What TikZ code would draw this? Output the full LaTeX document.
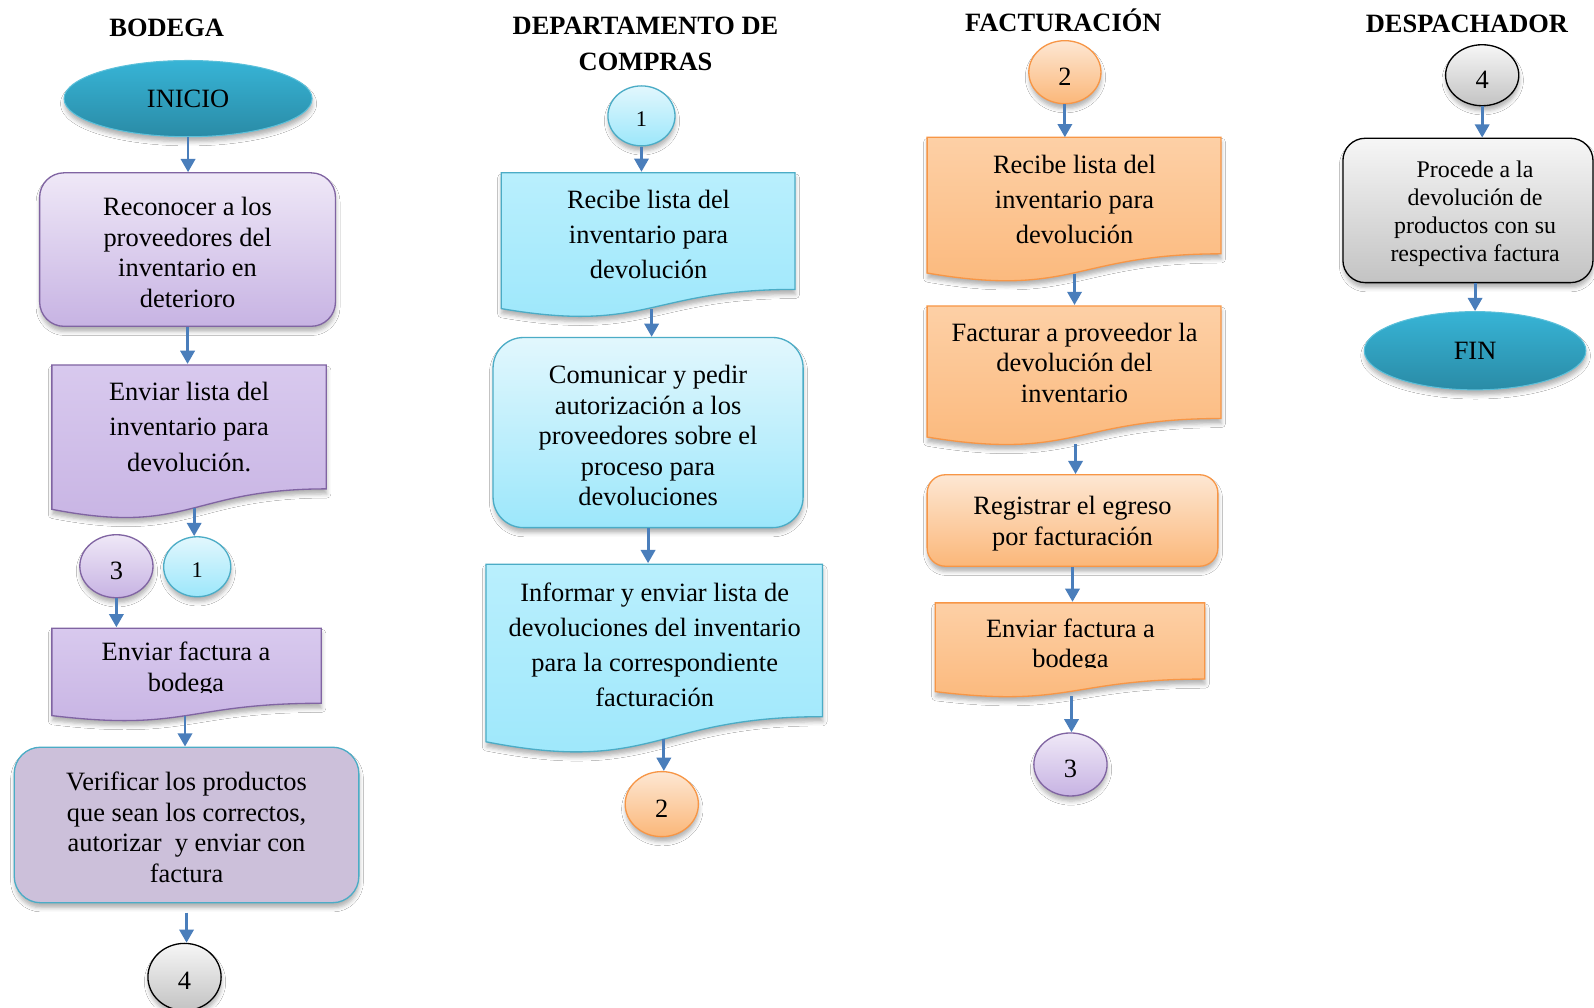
\documentclass[tikz,border=0pt]{standalone}
\usepackage{fontspec}
\setmainfont{Liberation Serif}
\usetikzlibrary{shapes.geometric,arrows.meta,shadows.blur}

\definecolor{arrowblue}{HTML}{4A7EBB}
\definecolor{purpline}{HTML}{8064A2}
\definecolor{purptop}{HTML}{EFE8F7}
\definecolor{purpbot}{HTML}{C7B3E3}
\definecolor{purpdoc}{HTML}{D8C9EE}
\definecolor{cyanline}{HTML}{4BACC6}
\definecolor{cyantop}{HTML}{E2F7FD}
\definecolor{cyanbot}{HTML}{9CE7FB}
\definecolor{cyandoc}{HTML}{B9EFFD}
\definecolor{orline}{HTML}{F79646}
\definecolor{ortop}{HTML}{FDE7D3}
\definecolor{orbot}{HTML}{FBB779}
\definecolor{ordoc}{HTML}{FDD0A6}
\definecolor{graytop}{HTML}{F6F6F6}
\definecolor{graybot}{HTML}{C3C3C3}
\definecolor{tealtop}{HTML}{37B4D6}
\definecolor{tealbot}{HTML}{2A8BA6}
\definecolor{tealline}{HTML}{5CC0DA}
\definecolor{verifyfill}{HTML}{CCC0DA}

% flowchart "document" symbol: straight top and sides, wavy bottom edge
\newcommand\docshape[5]{% #1 style, #2 left x, #3 right x, #4 top y, #5 height
  \path[#1] (#2,#4) -- (#3,#4) -- (#3,{#4+0.802*#5})
    .. controls ({(#2+#3)/2},{#4+0.802*#5}) and ({(#2+#3)/2},{#4+1.1075*#5})
    .. (#2,{#4+0.934*#5}) -- cycle;}

\tikzset{
  softshadow/.style={blur shadow={shadow xshift=0.5pt, shadow yshift=-5pt,
      shadow blur radius=4pt, shadow opacity=30}},
  arr/.style={draw=arrowblue, line width=2.8pt, -{Triangle[length=13pt,width=14pt]}},
  head/.style={align=center, inner sep=0pt, font=\bfseries\fontsize{26}{35}\selectfont},
  txt/.style={align=center, inner sep=0pt, font=\fontsize{26}{30}\selectfont},
  txtwide/.style={align=center, inner sep=0pt, font=\fontsize{26}{34.5}\selectfont},
  txtsmall/.style={align=center, inner sep=0pt, font=\fontsize{23.5}{27.7}\selectfont},
  purplegrad/.style={top color=purptop, bottom color=purpbot, draw=purpline, line width=1.3pt, softshadow},
  purpledoc/.style={top color=purpdoc, bottom color=purpbot, draw=purpline, line width=1.3pt, softshadow},
  cyangrad/.style={top color=cyantop, bottom color=cyanbot, draw=cyanline, line width=1.3pt, softshadow},
  cyandocgrad/.style={top color=cyandoc, bottom color=cyanbot, draw=cyanline, line width=1.3pt, softshadow},
  orangegrad/.style={top color=ortop, bottom color=orbot, draw=orline, line width=1.3pt, softshadow},
  orangedocgrad/.style={top color=ordoc, bottom color=orbot, draw=orline, line width=1.3pt, softshadow},
  graygrad/.style={top color=graytop, bottom color=graybot, draw=black, line width=1.3pt, softshadow},
  tealgrad/.style={top color=tealtop, bottom color=tealbot, draw=tealline, line width=1pt, softshadow},
  rbox/.style={rectangle, inner sep=0pt},
  oval/.style={ellipse, inner sep=0pt, font=\fontsize{26}{30}\selectfont},
  conn/.style={ellipse, inner sep=0pt, text height=25.6pt, text depth=0pt,
      font=\fontsize{26}{30}\selectfont},
  connone/.style={ellipse, inner sep=0pt, text height=21.8pt, text depth=0pt,
      font=\fontsize{22}{26}\selectfont},
}

\begin{document}
\begin{tikzpicture}[x=1pt,y=-1pt]
\useasboundingbox (0,0) rectangle (1568,991);
\fill[white] (0,0) rectangle (1568,991);

% ---------------- column titles ----------------
\node[head] (hBod) at (164,27) {BODEGA};
\node[head] (hCom) at (635,43) {DEPARTAMENTO DE\\COMPRAS};
\node[head] (hFac) at (1046,19.5) {FACTURACIÓN};
\node[head] (hDes) at (1443,23) {DESPACHADOR};

% ---------------- BODEGA ----------------
\node[oval, tealgrad, minimum width=244pt, minimum height=75pt] (inicio) at (185,97) {INICIO};

\node[rbox, purplegrad, rounded corners=24pt, minimum width=291pt, minimum height=151pt]
  (recon) at (184.5,245.5) {};
\node[txt] (reconTxt) at (184.5,248.5) {Reconocer a los\\proveedores del\\inventario en\\deterioro};

\docshape{purpledoc}{51}{321}{359}{152}
\node[txtwide] (envlista) at (186,420) {Enviar lista del\\inventario para\\devolución.};
\coordinate (envlistaOut) at (191,500);

\node[conn, purplegrad, minimum width=72pt, minimum height=62pt] (c3a) at (114.5,557) {3};
\node[connone, cyangrad, minimum width=66pt, minimum height=59pt] (c1a) at (194,557.5) {1};

\docshape{purpledoc}{51}{316}{618}{92}
\begin{scope}
  \clip (40,600) rectangle (330,681);
  \node[txt] (envfacb) at (183,658.5) {Enviar factura a\\bodega};
\end{scope}
\coordinate (envfacbOut) at (182,704);

\node[rbox, fill=verifyfill, draw=cyanline, line width=1.3pt, softshadow, rounded corners=26pt,
  minimum width=339pt, minimum height=153pt] (verif) at (183.5,811.5) {};
\node[txt] (verifTxt) at (183.5,814) {Verificar los productos\\que sean los correctos,\\autorizar\ \ y enviar con\\factura};

\node[conn, graygrad, minimum width=72pt, minimum height=66pt] (c4a) at (181.5,961) {4};

\draw[arr] (inicio.south) -- (inicio.south |- recon.north);
\draw[arr] (recon.south) -- (recon.south |- 0,358);
\draw[arr] (envlistaOut) -- (envlistaOut |- c1a.north);
\draw[arr] (c3a.south) -- (c3a.south |- 0,617);
\draw[arr] (envfacbOut) -- (envfacbOut |- verif.north);
\draw[arr, shorten <=9pt] (verif.south) -- (verif.south |- c4a.north);

% ---------------- DEPARTAMENTO DE COMPRAS ----------------
\node[connone, cyangrad, minimum width=66pt, minimum height=59pt] (c1b) at (631,114) {1};

\docshape{cyandocgrad}{493}{782}{170}{143}
\node[txtwide] (recibeC) at (638,230.5) {Recibe lista del\\inventario para\\devolución};
\coordinate (recibeCOut) at (641,304);

\node[rbox, cyangrad, rounded corners=30pt, minimum width=305pt, minimum height=187pt]
  (comun) at (637.5,425.5) {};
\node[txt] (comunTxt) at (637.5,428.5) {Comunicar y pedir\\autorización a los\\proveedores sobre el\\proceso para\\devoluciones};

\docshape{cyandocgrad}{478}{809}{555}{187}
\node[txtwide] (informar) at (644,634) {Informar y enviar lista de\\devoluciones del inventario\\para la correspondiente\\facturación};
\coordinate (informarOut) at (653,727);

\node[conn, orangegrad, minimum width=72pt, minimum height=64pt] (c2b) at (651,791) {2};

\draw[arr] (c1b.south) -- (c1b.south |- 0,169);
\draw[arr] (recibeCOut) -- (recibeCOut |- comun.north);
\draw[arr] (comun.south) -- (comun.south |- 0,554);
\draw[arr] (informarOut) -- (informarOut |- c2b.north);

% ---------------- FACTURACIÓN ----------------
\node[conn, orangegrad, minimum width=71pt, minimum height=62pt] (c2c) at (1047.5,71) {2};

\docshape{orangedocgrad}{912}{1201}{135}{143}
\node[txtwide] (recibeF) at (1057,196) {Recibe lista del\\inventario para\\devolución};
\coordinate (recibeFOut) at (1057,270);

\docshape{orangedocgrad}{912}{1201}{301}{138}
\node[txt] (facturar) at (1057,357) {Facturar a proveedor la\\devolución del\\inventario};
\coordinate (facturarOut) at (1058,437);

\node[rbox, orangegrad, rounded corners=18pt, minimum width=286pt, minimum height=90pt]
  (registrar) at (1055,512) {};
\node[txt] (registrarTxt) at (1055,515) {Registrar el egreso\\por facturación};

\docshape{orangedocgrad}{920}{1185}{593}{93.5}
\begin{scope}
  \clip (900,580) rectangle (1200,657);
  \node[txt] (envfacf) at (1053,635.5) {Enviar factura a\\bodega};
\end{scope}
\coordinate (envfacfOut) at (1054,685);

\node[conn, purplegrad, minimum width=72pt, minimum height=62pt] (c3c) at (1053,752) {3};

\draw[arr] (c2c.south) -- (c2c.south |- 0,135);
\draw[arr] (recibeFOut) -- (recibeFOut |- 0,300);
\draw[arr] (facturarOut) -- (facturarOut |- registrar.north);
\draw[arr] (registrar.south) -- (registrar.south |- 0,592);
\draw[arr] (envfacfOut) -- (envfacfOut |- c3c.north);

% ---------------- DESPACHADOR ----------------
\node[conn, graygrad, minimum width=72pt, minimum height=60pt] (c4d) at (1458,74) {4};

\node[rbox, graygrad, rounded corners=22pt, minimum width=246pt, minimum height=142pt]
  (procede) at (1444,207) {};
\node[txtsmall] (procedeTxt) at (1451,210.5) {Procede a la\\devolución de\\productos con su\\respectiva factura};

\node[oval, tealgrad, minimum width=218pt, minimum height=77pt] (fin) at (1451,345) {FIN};

\draw[arr] (c4d.south) -- (c4d.south |- procede.north);
\draw[arr] (procede.south -| fin) -- (fin.north);
\end{tikzpicture}
\end{document}
